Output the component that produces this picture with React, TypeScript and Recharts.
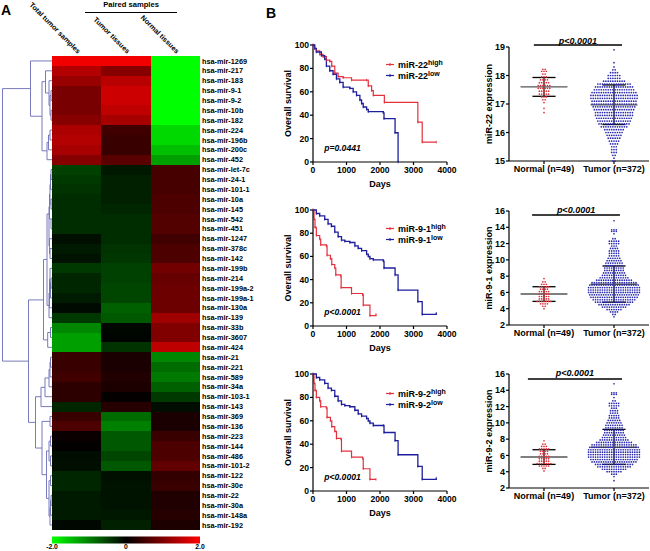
import React from 'react';
import {
  BarChart, Bar, Cell, XAxis, YAxis, ScatterChart, Scatter, ComposedChart, Line,
  ReferenceLine, ReferenceDot, Legend,
} from 'recharts';

const FONT = '"Liberation Sans", Arial, sans-serif';
const RED = '#e3313c';
const BLUE = '#1f1f9e';

/* ---------- Heatmap data ---------- */
const miRNAs = ['hsa-mir-1269','hsa-mir-217','hsa-mir-183','hsa-mir-9-1','hsa-mir-9-2','hsa-mir-10b','hsa-mir-182','hsa-mir-224','hsa-mir-196b','hsa-mir-200c','hsa-mir-452','hsa-mir-let-7c','hsa-mir-24-1','hsa-mir-101-1','hsa-mir-10a','hsa-mir-145','hsa-mir-542','hsa-mir-451','hsa-mir-1247','hsa-mir-378c','hsa-mir-142','hsa-mir-199b','hsa-mir-214','hsa-mir-199a-2','hsa-mir-199a-1','hsa-mir-130a','hsa-mir-139','hsa-mir-33b','hsa-mir-3607','hsa-mir-424','hsa-mir-21','hsa-mir-221','hsa-mir-589','hsa-mir-34a','hsa-mir-103-1','hsa-mir-143','hsa-mir-369','hsa-mir-136','hsa-mir-223','hsa-mir-144','hsa-mir-486','hsa-mir-101-2','hsa-mir-122','hsa-mir-30e','hsa-mir-22','hsa-mir-30a','hsa-mir-148a','hsa-mir-192'];
const totalTumor = [1.9,1.4,1.2,0.95,0.95,0.95,1.05,1.35,1.4,1.3,1.05,-0.5,-0.45,-0.4,-0.35,-0.35,-0.35,-0.35,-0.12,-0.2,-0.15,-0.45,-0.3,-0.3,-0.22,-0.08,-0.45,-1.05,-1.25,-1.25,0.45,0.45,0.5,0.35,0.35,-0.3,0.45,0.6,0.08,0.02,-0.1,-0.12,-0.3,-0.3,-0.2,-0.2,-0.2,-0.05];
const tumorTissue = [1.9,1.05,1.45,1.6,1.6,1.5,1.3,0.5,0.45,0.45,0.7,-0.18,-0.25,-0.25,-0.25,-0.3,-0.35,-0.35,-0.35,-0.4,-0.42,-0.5,-0.5,-0.55,-0.55,-0.75,-0.7,-0.05,-0.03,-0.4,0.2,0.2,0.25,0.22,0.03,0.3,-0.85,-1.0,-0.7,-0.7,-0.55,-0.7,-0.12,-0.15,-0.15,-0.15,-0.18,-0.25];
const normalTissue = [-2,-2,-2,-2,-2,-2,-2,-1.7,-1.7,-1.5,-1.25,0.55,0.55,0.55,0.6,0.6,0.65,0.65,0.5,0.6,0.6,0.9,0.8,0.85,0.85,0.85,1.25,1.0,1.0,1.5,-1.05,-0.85,-0.95,-0.75,-0.45,-0.1,0.2,0.2,0.45,0.6,0.6,0.75,0.4,0.45,0.25,0.25,0.3,0.22];
const columnNames = ['Total tumor samples', 'Tumor tissues', 'Normal tissues'];
const heatColumns = [totalTumor, tumorTissue, normalTissue];
const scaleTicks = [-2, 0, 2];

/* Dendrogram merges: [depth, rowA, childDepthA, rowB, childDepthB] */
const merges = [
  [2.5,3.3,30.5,30.9,28.5],
  [30.5,0.5,52,6.1,42],[42,2.6,45.5,9.6,47],[45.5,1.5,52,3.75,49],[49,2.5,52,5,50],[50,4,51,6,51],[51,3.5,52,4.5,52],[51,5.5,52,6.5,52],
  [47,8.75,48.5,10.5,52],[48.5,8,50,9.5,52],[50,7.5,52,8.5,52],
  [28.5,24.7,43.5,37.1,35.5],[43.5,20.6,47,28.75,47.7],[47.7,28,50.5,29.5,52],[50.5,27.5,52,28.5,52],[47,16,49,25.25,49],
  [49,15.25,49.5,19.25,49.5],[49.5,14,50,16.5,51],[51,16.5,52,17.5,52],[50,13,50.5,15,51],[51,14.5,52,15.5,52],[50.5,12,51,13.5,52],[51,11.5,52,12.5,52],
  [49.5,18.5,52,20,50],[50,19.5,52,20.5,52],
  [49,24,49.5,26.5,52],[49.5,22.6,50,25.5,52],[50,21.5,52,23.75,50.5],[50.5,23,51,24.5,52],[51,22.5,52,23.5,52],
  [35.5,34.5,41,39.7,42],[41,33.55,45,35.5,52],[45,32.6,49,34.5,52],[49,31.75,50,33.5,52],[50,31,50.5,32.5,52],[50.5,30.5,52,31.5,52],
  [42,37,50,42.4,46.5],[50,36.5,52,37.5,52],[46.5,40,49,44.8,49],[49,39,50.5,41,50.5],[50.5,38.5,52,39.5,52],[50.5,40.5,52,41.5,52],
  [49,43,50.5,46.6,50],[50.5,42.5,52,43.5,52],[50,45.75,50.5,47.5,52],[50.5,45,51,46.5,52],[51,44.5,52,45.5,52],
];

/* ---------- Survival data: [days, percent] ---------- */
const km22High = [[0,100],[50,97],[100,95],[200,92],[300,90],[400,87],[500,86],[560,82],[650,76],[750,73],[900,72],[1150,70],[1600,70],[1650,65],[1750,61],[1800,57],[2130,51],[3130,34],[3260,17],[3680,17]];
const km22Low = [[0,100],[50,97],[100,94],[250,91],[350,88],[400,82],[500,78],[600,75],[700,71],[800,68],[900,64],[1100,63],[1200,60],[1300,57],[1400,53],[1450,50],[1500,47],[1600,45],[1650,43],[2100,42],[2120,37],[2450,25],[2540,0]];
const km91High = [[0,100],[30,92],[60,85],[100,78],[200,75],[230,70],[400,69],[420,61],[520,58],[560,53],[650,50],[680,44],[830,43],[840,33],[1150,28],[1480,27],[1500,18],[1700,9],[1880,10]];
const km91Low = [[0,100],[100,97],[200,95],[350,92],[450,88],[550,86],[650,81],[750,77],[850,74],[950,73],[1100,72],[1250,69],[1350,67],[1450,65],[1600,62],[1650,60],[1700,58],[1800,57],[2100,56],[2120,50],[2450,44],[2540,31],[3130,21],[3260,10],[3680,11]];
const km92High = [[0,100],[30,92],[60,86],[100,80],[200,77],[230,72],[400,71],[420,63],[520,60],[560,55],[650,51],[700,45],[840,44],[850,34],[1150,29],[1480,28],[1500,19],[1700,10],[1880,10]];
const km92Low = [[0,100],[100,97],[200,95],[350,92],[450,88],[550,86],[650,81],[750,77],[850,74],[950,73],[1100,72],[1250,69],[1350,66],[1450,64],[1600,62],[1650,60],[1700,58],[1800,56],[2100,56],[2120,50],[2450,43],[2540,31],[3130,21],[3260,10],[3680,11]];
const kmXTicks = [0, 1000, 2000, 3000, 4000];
const kmYTicks = [0, 20, 40, 60, 80, 100];

/* ---------- Expression data: value levels with the number of samples at each level ---------- */
const n22Levels = [16.7,16.85,17.05,17.15,17.25,17.35,17.45,17.55,17.65,17.75,17.85,17.95,18.05,18.15,18.22];
const n22Counts = [1,1,1,2,3,5,5,6,6,5,4,3,2,3,2];
const t22Levels = [15,15.1,15.2,15.3,15.4,15.5,15.6,15.7,15.8,15.9,16,16.1,16.2,16.3,16.4,16.5,16.6,16.7,16.8,16.9,17,17.1,17.2,17.3,17.4,17.5,17.6,17.7,17.8,17.9,18,18.1,18.2,18.3,18.45,18.9];
const t22Counts = [2,1,2,3,3,3,4,5,6,7,8,9,12,14,15,16,17,17,18,19,20,20,21,21,20,18,17,15,10,6,6,4,2,1,1,1];
const n91Levels = [4,4.3,4.6,4.9,5.2,5.5,5.8,6.1,6.4,6.7,7,7.3,7.7];
const n91Counts = [1,2,4,7,5,5,5,5,4,5,3,2,1];
const t91Levels = [3,3.3,3.6,3.9,4.2,4.5,4.8,5.1,5.4,5.7,6,6.3,6.6,6.9,7.2,7.5,7.8,8.1,8.4,8.7,9,9.3,9.6,9.9,10.2,10.5,10.8,11.1,11.4,11.7,12,12.3,12.6,13.2,13.5,13.7,14.8];
const t91Counts = [1,2,4,7,11,14,17,19,21,22,23,23,23,22,20,16,13,11,10,9,9,8,8,7,6,5,5,5,4,3,5,5,2,1,3,3,1];
const n92Levels = [4.1,4.4,4.7,5,5.3,5.6,5.9,6.2,6.5,6.8,7.1,7.4,7.8];
const n92Counts = [1,2,5,7,5,5,5,4,4,5,3,2,1];
const t92Levels = [2.9,3.4,3.7,4,4.3,4.6,4.9,5.2,5.5,5.8,6.1,6.4,6.7,7,7.3,7.6,7.9,8.2,8.5,8.8,9.1,9.4,9.7,10,10.3,10.6,10.9,11.2,11.5,11.8,12.1,12.4,12.7,13.1,13.5,13.7,14.8];
const t92Counts = [1,1,3,7,11,15,17,20,21,23,23,23,23,22,20,16,13,11,10,9,9,8,8,7,6,5,5,4,4,3,5,5,2,1,3,3,1];

const heatColor = (v: number) => {
  const c = Math.round((Math.abs(v) / 2) * 255);
  return v >= 0 ? `rgb(${c},0,0)` : `rgb(0,${c},0)`;
};
const heatRows = miRNAs.map((name) => ({ name, c0: 1, c1: 1, c2: 1 }));

const SWARM_STEP = 0.066; // horizontal dot pitch of the bee-swarm layout, in axis units
const swarm = (levels: number[], counts: number[], centre: number) =>
  levels.flatMap((y, l) =>
    Array.from({ length: counts[l] }, (_, i) => ({ x: centre + (i - (counts[l] - 1) / 2) * SWARM_STEP, y })));

const mergePath = ([d, a, da, b, db]: number[]) => [
  { x: da, y: a }, { x: d, y: a }, { x: d, y: b }, { x: db, y: b },
];

const boldTick = (size: number) => ({ fontSize: size, fontWeight: 700, fontFamily: FONT, fill: '#000' });
const axisLine = { stroke: '#000', strokeWidth: 1.2 };
const tickLine = { stroke: '#000', strokeWidth: 1.2 };

const at = (left: number, top: number): React.CSSProperties => ({ position: 'absolute', left, top });

function Heatmap() {
  return (
    <div style={at(0, 0)}>
      <BarChart width={256} height={531} layout="vertical" data={heatRows} barCategoryGap={0}
        margin={{ top: 0, left: 52, right: 0, bottom: 1 }}>
        <XAxis xAxisId={0} type="number" orientation="top" domain={[0, 3]} ticks={[0.5, 1.5, 2.5]} height={56}
          axisLine={false} tickLine={false} interval={0} tickSize={0} tickMargin={2}
          tick={(p: any) => (
            <text key={p.index} transform={`translate(${p.x + 1},${p.y}) rotate(45)`} textAnchor="end" {...boldTick(7.1)}>
              {columnNames[p.index]}
            </text>
          )} />
        <YAxis type="category" dataKey="name" orientation="right" width={56} interval={0} axisLine={false} tickLine={false}
          tickSize={0} tickMargin={2} tick={boldTick(7.3)} />
        {heatColumns.map((col, k) => (
          <Bar key={k} dataKey={`c${k}`} stackId="h" isAnimationActive={false} shapeRendering="crispEdges">
            {col.map((v, i) => <Cell key={i} fill={heatColor(v)} />)}
          </Bar>
        ))}
      </BarChart>
    </div>
  );
}

function Dendrogram() {
  return (
    <div style={at(0, 50)}>
      <ScatterChart width={52} height={480} margin={{ top: 6, left: 0, right: 0, bottom: 0 }}>
        <XAxis type="number" dataKey="x" domain={[0, 52]} hide />
        <YAxis type="number" dataKey="y" domain={[0, 48]} reversed hide />
        {merges.map((m, i) => (
          <Scatter key={i} data={mergePath(m)} isAnimationActive={false} line={{ stroke: '#6a6cb4', strokeWidth: 0.9 }}
            lineType="joint" shape={() => <g />} />
        ))}
      </ScatterChart>
    </div>
  );
}

function ColorScale() {
  const rows = [{ name: 'scale', range: [-2, 2] }];
  return (
    <div style={at(36, 531)}>
      <BarChart width={180} height={20} layout="vertical" data={rows} barCategoryGap={0}
        margin={{ top: 5.5, left: 16, right: 16, bottom: 0 }}>
        <defs>
          <linearGradient id="heatScale" x1="0" y1="0" x2="1" y2="0">
            <stop offset="0" stopColor="#00ff00" />
            <stop offset="0.5" stopColor="#000000" />
            <stop offset="1" stopColor="#ff0000" />
          </linearGradient>
        </defs>
        <XAxis type="number" domain={[-2, 2]} ticks={scaleTicks} height={7.5} axisLine={false} tickLine={false}
          tickSize={0} tickMargin={1} interval={0} tick={boldTick(6.8)}
          tickFormatter={(v: number) => (v === 0 ? '0' : v.toFixed(1))} />
        <YAxis type="category" dataKey="name" hide />
        <Bar dataKey="range" fill="url(#heatScale)" isAnimationActive={false} />
      </BarChart>
    </div>
  );
}

const censor = (color: string) => (p: any) => (
  <line key={p.index} x1={p.cx} x2={p.cx} y1={p.cy - 1.3} y2={p.cy + 1.3} stroke={color} strokeWidth={0.8} />
);

function KMLegend({ name }: { name: string }) {
  const row = (color: string, sup: string) => (
    <div style={{ display: 'flex', alignItems: 'center', height: 11, whiteSpace: 'nowrap' }}>
      <svg width={12} height={5} style={{ marginRight: 0 }}>
        <line x1={0} x2={8} y1={2.5} y2={2.5} stroke={color} strokeWidth={1.2} />
        <line x1={4} x2={4} y1={1} y2={4} stroke={color} strokeWidth={1} />
      </svg>
      <span>{name}<sup style={{ fontSize: 7, lineHeight: 0, verticalAlign: 3 }}>{sup}</sup></span>
    </div>
  );
  return (
    <div style={{ fontFamily: FONT, fontSize: 9, fontWeight: 700, color: '#000' }}>
      {row(RED, 'high')}{row(BLUE, 'low')}
    </div>
  );
}

function KM({ top, h, name, high, low, p, legendTop }: any) {
  const toRows = (a: number[][]) => a.map(([d, s]) => ({ d, s }));
  return (
    <div style={at(273, top - 6)}>
      <ComposedChart width={186} height={h + 36} margin={{ top: 6, left: 16, right: 12, bottom: 0 }}>
        <XAxis type="number" dataKey="d" domain={[0, 4000]} ticks={kmXTicks} height={30} interval={0}
          tick={boldTick(8.6)} axisLine={axisLine} tickLine={tickLine} tickSize={3} tickMargin={2}
          label={{ value: 'Days', position: 'insideBottom', offset: 5, ...boldTick(9) }} />
        <YAxis type="number" domain={[0, 100]} ticks={kmYTicks} width={24} interval={0}
          tick={boldTick(8.6)} axisLine={axisLine} tickLine={tickLine} tickSize={3} tickMargin={1}
          label={{ value: 'Overall survival', angle: -90, position: 'insideLeft', offset: -1, style: { textAnchor: 'middle' }, ...boldTick(9) }} />
        <Line data={toRows(high)} dataKey="s" type="stepAfter" stroke={RED} strokeWidth={1.2} dot={censor(RED)} isAnimationActive={false} legendType="none" />
        <Line data={toRows(low)} dataKey="s" type="stepAfter" stroke={BLUE} strokeWidth={1.3} dot={censor(BLUE)} isAnimationActive={false} legendType="none" />
        <ReferenceDot x={880} y={12} r={0} stroke="none" ifOverflow="visible"
          label={{ value: p, position: 'center', ...boldTick(8.6), fontStyle: 'italic' }} />
        <Legend layout="horizontal" verticalAlign="middle" align="center" content={() => <KMLegend name={name} />}
          wrapperStyle={{ position: 'absolute', left: 113, top: legendTop, width: 70 }} />
      </ComposedChart>
    </div>
  );
}

function Swarm({ top, title, domain, ticks, normal, tumor, nStats, tStats, bar, pY }: any) {
  const xTick = (v: number) => (v === 1 ? 'Normal (n=49)' : 'Tumor (n=372)');
  const stat = (c: number, [mean, hi, lo]: number[]) => (
    <React.Fragment key={c}>
      <ReferenceLine segment={[{ x: c, y: lo }, { x: c, y: hi }]} stroke="#000" strokeWidth={1.2} />
      <ReferenceLine segment={[{ x: c - 0.33, y: hi }, { x: c + 0.33, y: hi }]} stroke="#000" strokeWidth={1.3} />
      <ReferenceLine segment={[{ x: c - 0.33, y: lo }, { x: c + 0.33, y: lo }]} stroke="#000" strokeWidth={1.3} />
      <ReferenceLine segment={[{ x: c - 0.67, y: mean }, { x: c + 0.67, y: mean }]} stroke="#555" strokeWidth={1.4} />
    </React.Fragment>
  );
  const dot = (color: string) => (s: any) => <circle cx={s.cx} cy={s.cy} r={0.85} fill={color} />;
  return (
    <div style={at(469, top - 14)}>
      <ScatterChart width={181} height={146} margin={{ top: 14, left: 16, right: 1, bottom: 0 }}>
        <XAxis type="number" dataKey="x" domain={[0, 4]} ticks={[1, 3]} height={18} interval={0}
          tickFormatter={xTick} tick={boldTick(9)} axisLine={axisLine} tickLine={tickLine} tickSize={3} tickMargin={2} />
        <YAxis type="number" dataKey="y" domain={domain} ticks={ticks} width={24} interval={0}
          tick={boldTick(9)} axisLine={axisLine} tickLine={tickLine} tickSize={3} tickMargin={1}
          label={{ value: title, angle: -90, position: 'insideLeft', offset: 4, style: { textAnchor: 'middle' }, ...boldTick(9) }} />
        <Scatter data={swarm(normal[0], normal[1], 1)} shape={dot(RED)} isAnimationActive={false} />
        <Scatter data={swarm(tumor[0], tumor[1], 3)} shape={dot('#2a2ab0')} isAnimationActive={false} />
        {stat(1, nStats)}
        {stat(3, tStats)}
        <ReferenceLine segment={[{ x: bar[0], y: bar[2] }, { x: bar[1], y: bar[2] }]} stroke="#000" strokeWidth={1.5} ifOverflow="visible" />
        <ReferenceDot x={(bar[0] + bar[1]) / 2} y={pY} r={0} stroke="none" ifOverflow="visible"
          label={{ value: 'p<0.0001', position: 'center', ...boldTick(9), fontStyle: 'italic' }} />
      </ScatterChart>
    </div>
  );
}

const letter = (t: string, left: number, top: number) => (
  <div style={{ ...at(left, top), fontFamily: FONT, fontWeight: 700, fontSize: 14, lineHeight: '14px' }}>{t}</div>
);

export default function App() {
  return (
    <div style={{ position: 'fixed', left: 0, top: 0, width: 650, height: 551, overflow: 'hidden', background: '#fff' }}>
      {letter('A', 1, 3)}
      {letter('B', 266, 6)}
      <div style={{ ...at(85, 0), width: 92, textAlign: 'center', fontFamily: FONT, fontWeight: 700, fontSize: 7.6, lineHeight: '10px' }}>Paired samples</div>
      <div style={{ ...at(85, 12), width: 92, height: 1, background: '#000' }} />
      <Dendrogram />
      <Heatmap />
      <ColorScale />
      <KM top={45} h={117} name="miR-22" high={km22High} low={km22Low} p="p=0.0441" legendTop={20} />
      <KM top={210} h={116} name="miR-9-1" high={km91High} low={km91Low} p="p<0.0001" legendTop={19} />
      <KM top={374} h={117} name="miR-9-2" high={km92High} low={km92Low} p="p<0.0001" legendTop={20} />
      <Swarm top={47} title="miR-22 expression" domain={[15, 19]} ticks={[15, 16, 17, 18, 19]}
        normal={[n22Levels, n22Counts]} tumor={[t22Levels, t22Counts]}
        nStats={[17.6, 17.93, 17.27]} tStats={[16.97, 17.67, 16.28]} bar={[0.71, 3.23, 19.07]} pY={19.22} />
      <Swarm top={211} title="miR-9-1 expression" domain={[2, 16]} ticks={[2, 4, 6, 8, 10, 12, 14, 16]}
        normal={[n91Levels, n91Counts]} tumor={[t91Levels, t91Counts]}
        nStats={[5.8, 6.7, 4.9]} tStats={[7.0, 9.25, 4.8]} bar={[0.66, 3.17, 15.5]} pY={16.1} />
      <Swarm top={374} title="miR-9-2 expression" domain={[2, 16]} ticks={[2, 4, 6, 8, 10, 12, 14, 16]}
        normal={[n92Levels, n92Counts]} tumor={[t92Levels, t92Counts]}
        nStats={[5.8, 6.7, 4.9]} tStats={[7.0, 9.2, 4.9]} bar={[0.54, 3.23, 15.4]} pY={16.1} />
    </div>
  );
}
